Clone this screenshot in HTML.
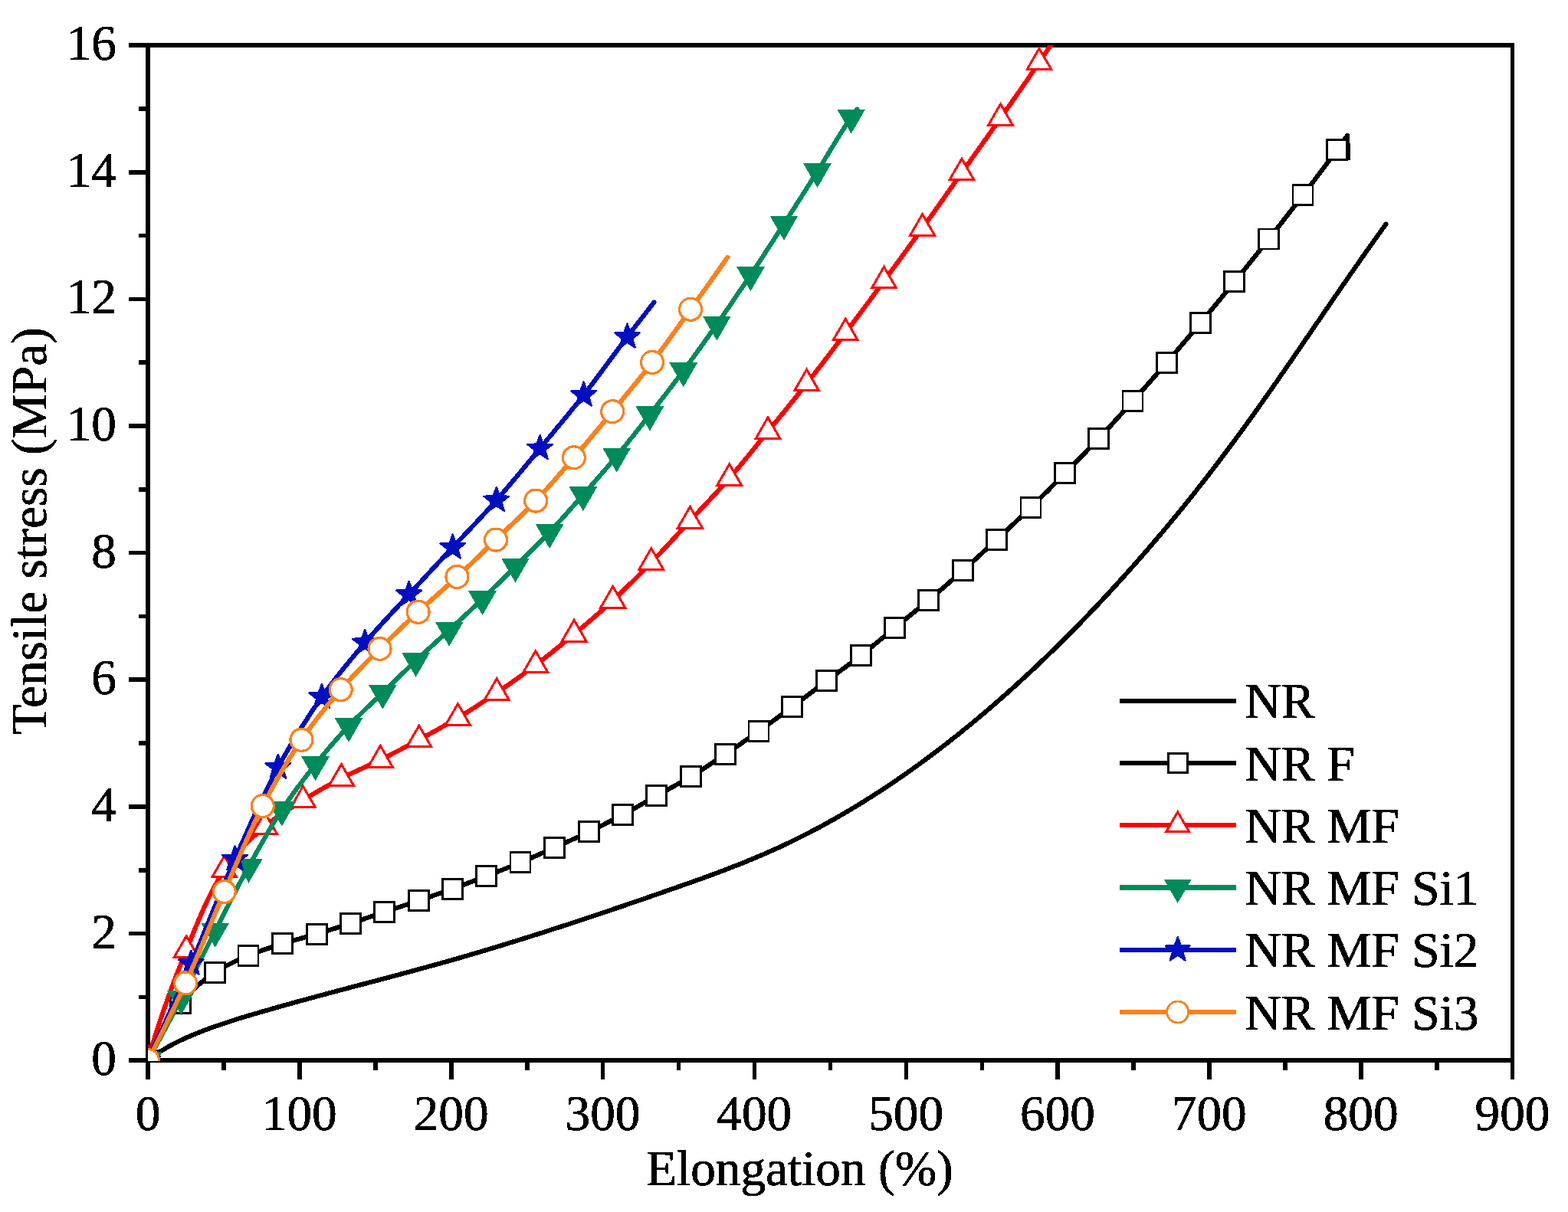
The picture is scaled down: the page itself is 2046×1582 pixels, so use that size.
<!DOCTYPE html>
<html lang="en"><head><meta charset="utf-8"><title>Tensile stress vs elongation</title>
<style>html,body{margin:0;padding:0;background:#fff}svg{display:block}text{font-family:"Liberation Serif", "DejaVu Serif", serif;fill:#000;stroke:#000;stroke-width:0.7px;stroke-linejoin:round;filter:url(#bin)}</style></head><body>
<svg width="2046" height="1582" viewBox="0 0 2046 1582">
<rect width="2046" height="1582" fill="#fff"/>
<defs><filter id="bin" x="-0.05" y="-0.05" width="1.1" height="1.1" color-interpolation-filters="sRGB"><feComponentTransfer><feFuncA type="discrete" tableValues="0 1"/></feComponentTransfer></filter><clipPath id="plot"><rect x="193" y="59" width="1780.5" height="1326"/></clipPath></defs>
<g fill="#000" shape-rendering="crispEdges">
<rect x="190" y="56" width="6" height="1331"/>
<rect x="1971" y="56" width="5" height="1331"/>
<rect x="190" y="56" width="1786" height="6"/>
<rect x="190" y="1381" width="1786" height="6"/>
<rect x="190.4" y="1387" width="5.5" height="22"/>
<rect x="289.3" y="1387" width="5.5" height="10"/>
<rect x="388.2" y="1387" width="5.5" height="22"/>
<rect x="487.1" y="1387" width="5.5" height="10"/>
<rect x="586.1" y="1387" width="5.5" height="22"/>
<rect x="685" y="1387" width="5.5" height="10"/>
<rect x="783.9" y="1387" width="5.5" height="22"/>
<rect x="882.8" y="1387" width="5.5" height="10"/>
<rect x="981.7" y="1387" width="5.5" height="22"/>
<rect x="1080.7" y="1387" width="5.5" height="10"/>
<rect x="1179.6" y="1387" width="5.5" height="22"/>
<rect x="1278.5" y="1387" width="5.5" height="10"/>
<rect x="1377.4" y="1387" width="5.5" height="22"/>
<rect x="1476.3" y="1387" width="5.5" height="10"/>
<rect x="1575.2" y="1387" width="5.5" height="22"/>
<rect x="1674.2" y="1387" width="5.5" height="10"/>
<rect x="1773.1" y="1387" width="5.5" height="22"/>
<rect x="1872" y="1387" width="5.5" height="10"/>
<rect x="1970.9" y="1387" width="5.5" height="22"/>
<rect x="168" y="1381.3" width="22" height="5.6"/>
<rect x="181" y="1298.5" width="9" height="5.6"/>
<rect x="168" y="1215.7" width="22" height="5.6"/>
<rect x="181" y="1132.9" width="9" height="5.6"/>
<rect x="168" y="1050" width="22" height="5.6"/>
<rect x="181" y="967.2" width="9" height="5.6"/>
<rect x="168" y="884.4" width="22" height="5.6"/>
<rect x="181" y="801.6" width="9" height="5.6"/>
<rect x="168" y="718.8" width="22" height="5.6"/>
<rect x="181" y="636" width="9" height="5.6"/>
<rect x="168" y="553.2" width="22" height="5.6"/>
<rect x="181" y="470.4" width="9" height="5.6"/>
<rect x="168" y="387.6" width="22" height="5.6"/>
<rect x="181" y="304.7" width="9" height="5.6"/>
<rect x="168" y="221.9" width="22" height="5.6"/>
<rect x="181" y="139.1" width="9" height="5.6"/>
<rect x="168" y="56.3" width="22" height="5.6"/>
</g>
<g font-size="65.3">
<text x="193" y="1475" text-anchor="middle">0</text>
<text x="390.8" y="1475" text-anchor="middle">100</text>
<text x="588.7" y="1475" text-anchor="middle">200</text>
<text x="786.5" y="1475" text-anchor="middle">300</text>
<text x="984.3" y="1475" text-anchor="middle">400</text>
<text x="1182.2" y="1475" text-anchor="middle">500</text>
<text x="1380" y="1475" text-anchor="middle">600</text>
<text x="1577.8" y="1475" text-anchor="middle">700</text>
<text x="1775.7" y="1475" text-anchor="middle">800</text>
<text x="1973.5" y="1475" text-anchor="middle">900</text>
<text x="152" y="1403.2" text-anchor="end">0</text>
<text x="152" y="1237.6" text-anchor="end">2</text>
<text x="152" y="1072" text-anchor="end">4</text>
<text x="152" y="906.3" text-anchor="end">6</text>
<text x="152" y="740.7" text-anchor="end">8</text>
<text x="152" y="575.1" text-anchor="end">10</text>
<text x="152" y="409.4" text-anchor="end">12</text>
<text x="152" y="243.8" text-anchor="end">14</text>
<text x="152" y="78.2" text-anchor="end">16</text>
</g>
<text x="1043.5" y="1547" font-size="65.3" text-anchor="middle">Elongation (%)</text>
<text transform="translate(60.3 693.3) rotate(-90)" font-size="65.3" text-anchor="middle">Tensile stress (MPa)</text>
<g clip-path="url(#plot)" shape-rendering="crispEdges">
<path d="M193 1384.3 L196 1381.9 L202 1377.5 L208 1373.3 L214 1369.6 L220 1366 L226 1362.8 L232 1359.7 L238 1356.9 L244 1354.1 L250 1351.6 L256 1349.1 L262 1346.7 L268 1344.4 L274 1342.1 L280 1340 L286 1337.9 L292 1335.9 L298 1333.9 L304 1332 L310 1330.1 L316 1328.2 L322 1326.4 L328 1324.6 L334 1322.9 L340 1321.1 L346 1319.4 L352 1317.7 L358 1315.9 L364 1314.2 L370 1312.5 L376 1310.9 L382 1309.2 L388 1307.5 L394 1305.9 L400 1304.3 L406 1302.6 L412 1301 L418 1299.4 L424 1297.8 L430 1296.2 L436 1294.6 L442 1293 L448 1291.4 L454 1289.8 L460 1288.2 L466 1286.6 L472 1285 L478 1283.5 L484 1281.9 L490 1280.3 L496 1278.7 L502 1277.1 L508 1275.5 L514 1273.9 L520 1272.3 L526 1270.7 L532 1269.1 L538 1267.5 L544 1265.8 L550 1264.2 L556 1262.6 L562 1260.9 L568 1259.2 L574 1257.6 L580 1255.9 L586 1254.2 L592 1252.5 L598 1250.8 L604 1249 L610 1247.3 L616 1245.5 L622 1243.8 L628 1242 L634 1240.2 L640 1238.4 L646 1236.6 L652 1234.8 L658 1232.9 L664 1231.1 L670 1229.2 L676 1227.4 L682 1225.5 L688 1223.6 L694 1221.7 L700 1219.8 L706 1217.9 L712 1216 L718 1214.1 L724 1212.1 L730 1210.2 L736 1208.2 L742 1206.3 L748 1204.3 L754 1202.3 L760 1200.3 L766 1198.3 L772 1196.3 L778 1194.3 L784 1192.3 L790 1190.3 L796 1188.3 L802 1186.2 L808 1184.2 L814 1182.2 L820 1180.1 L826 1178.1 L832 1176 L838 1173.9 L844 1171.9 L850 1169.8 L856 1167.7 L862 1165.6 L868 1163.5 L874 1161.4 L880 1159.4 L886 1157.2 L892 1155.1 L898 1153 L904 1150.9 L910 1148.7 L916 1146.6 L922 1144.4 L928 1142.2 L934 1140 L940 1137.7 L946 1135.5 L952 1133.2 L958 1130.8 L964 1128.5 L970 1126.1 L976 1123.6 L982 1121.1 L988 1118.6 L994 1116.1 L1000 1113.5 L1006 1110.8 L1012 1108.1 L1018 1105.4 L1024 1102.6 L1030 1099.7 L1036 1096.8 L1042 1093.8 L1048 1090.8 L1054 1087.8 L1060 1084.6 L1066 1081.5 L1072 1078.3 L1078 1075 L1084 1071.6 L1090 1068.3 L1096 1064.8 L1102 1061.3 L1108 1057.8 L1114 1054.2 L1120 1050.6 L1126 1046.9 L1132 1043.1 L1138 1039.3 L1144 1035.5 L1150 1031.6 L1156 1027.6 L1162 1023.6 L1168 1019.6 L1174 1015.4 L1180 1011.3 L1186 1007.1 L1192 1002.8 L1198 998.5 L1204 994.1 L1210 989.7 L1216 985.2 L1222 980.7 L1228 976.1 L1234 971.5 L1240 966.8 L1246 962 L1252 957.3 L1258 952.4 L1264 947.5 L1270 942.6 L1276 937.6 L1282 932.5 L1288 927.5 L1294 922.3 L1300 917.1 L1306 911.9 L1312 906.6 L1318 901.2 L1324 895.8 L1330 890.3 L1336 884.8 L1342 879.3 L1348 873.7 L1354 868 L1360 862.3 L1366 856.5 L1372 850.7 L1378 844.9 L1384 838.9 L1390 833 L1396 827 L1402 820.9 L1408 814.8 L1414 808.6 L1420 802.4 L1426 796.1 L1432 789.8 L1438 783.4 L1444 777 L1450 770.5 L1456 763.9 L1462 757.3 L1468 750.7 L1474 744 L1480 737.2 L1486 730.4 L1492 723.5 L1498 716.6 L1504 709.6 L1510 702.6 L1516 695.5 L1522 688.3 L1528 681.1 L1534 673.8 L1540 666.5 L1546 659.1 L1552 651.6 L1558 644.1 L1564 636.5 L1570 628.8 L1576 621.1 L1582 613.4 L1588 605.5 L1594 597.6 L1600 589.6 L1606 581.6 L1612 573.5 L1618 565.3 L1624 557.1 L1630 548.8 L1636 540.4 L1642 532 L1648 523.5 L1654 515 L1660 506.5 L1666 497.9 L1672 489.2 L1678 480.5 L1684 471.9 L1690 463.1 L1696 454.4 L1702 445.6 L1708 436.9 L1714 428.1 L1720 419.3 L1726 410.6 L1732 401.8 L1738 393 L1744 384.3 L1750 375.6 L1756 366.9 L1762 358.2 L1768 349.6 L1774 341 L1780 332.4 L1786 323.9 L1792 315.5 L1798 307.1 L1804 298.7 L1808.5 292.5" fill="none" stroke="#000000" stroke-width="6.1" stroke-linejoin="round" stroke-linecap="round"/>
<path d="M193 1384 L196 1376.2 L199.2 1368.5 L202.7 1361.1 L206.4 1353.8 L210.3 1346.7 L214.4 1339.7 L218.7 1333 L223.1 1326.4 L227.7 1320 L232.4 1313.7 L235.6 1309.7 L237.3 1307.7 L242.5 1301.7 L248 1295.9 L253.9 1290.2 L260 1284.7 L266.3 1279.5 L272.8 1274.6 L279.3 1270 L280.7 1269.1 L285.9 1265.8 L292.9 1261.9 L300 1258.2 L307.4 1254.6 L314.8 1251.3 L322.2 1248.2 L324 1247.4 L329.6 1245.2 L337.1 1242.3 L344.7 1239.6 L352.3 1237.1 L360 1234.6 L367.6 1232.2 L368.8 1231.8 L375.3 1229.8 L383 1227.6 L390.8 1225.4 L398.5 1223.3 L406.2 1221.1 L413.1 1219.1 L414 1218.8 L421.6 1216.5 L429.3 1214.2 L437 1211.8 L444.7 1209.4 L452.3 1207 L457.5 1205.3 L460 1204.5 L467.6 1202 L475.2 1199.4 L482.8 1196.8 L490.4 1194.2 L498 1191.6 L501.8 1190.3 L505.6 1189 L513.2 1186.5 L520.9 1184 L528.5 1181.5 L536.1 1178.9 L543.7 1176.4 L546.3 1175.5 L551.3 1173.8 L558.9 1171.2 L566.5 1168.6 L574.1 1166 L581.7 1163.3 L589.3 1160.6 L590.4 1160.2 L596.8 1157.9 L604.3 1155.1 L611.9 1152.2 L619.4 1149.4 L626.9 1146.5 L634.4 1143.6 L634.7 1143.5 L641.9 1140.7 L649.3 1137.8 L656.8 1134.9 L664.3 1131.9 L671.7 1128.9 L679 1125.9 L679.2 1125.8 L686.6 1122.7 L693.9 1119.5 L701.3 1116.3 L708.6 1113 L715.9 1109.7 L723.3 1106.4 L723.3 1106.4 L730.6 1103.1 L737.9 1099.9 L745.3 1096.6 L752.6 1093.3 L759.9 1089.9 L767.2 1086.5 L768.4 1085.9 L774.4 1083 L781.6 1079.4 L788.8 1075.8 L795.9 1072.1 L803 1068.4 L810.1 1064.7 L812.2 1063.6 L817.2 1060.9 L824.3 1057.1 L831.3 1053.2 L838.3 1049.2 L845.3 1045.3 L852.3 1041.3 L856.8 1038.8 L859.3 1037.4 L866.3 1033.5 L873.4 1029.6 L880.4 1025.7 L887.4 1021.8 L894.4 1017.8 L901.1 1013.8 L901.3 1013.7 L908.1 1009.5 L914.9 1005.2 L921.7 1000.9 L928.4 996.5 L935.1 992 L941.8 987.6 L946.2 984.6 L948.4 983.1 L955.1 978.6 L961.8 974.1 L968.4 969.6 L975 965 L981.6 960.4 L988.2 955.8 L990 954.5 L994.7 951.2 L1001.2 946.5 L1007.7 941.7 L1014.2 937 L1020.7 932.2 L1027.1 927.4 L1033.6 922.7 L1033.8 922.5 L1040 917.9 L1046.5 913.1 L1052.9 908.2 L1059.3 903.4 L1065.7 898.6 L1072.1 893.8 L1078.6 888.9 L1078.9 888.7 L1085 884.1 L1091.5 879.4 L1097.9 874.6 L1104.4 869.8 L1110.8 865 L1117.3 860.2 L1123.2 855.6 L1123.6 855.3 L1129.9 850.3 L1136.2 845.3 L1142.4 840.2 L1148.6 835.1 L1154.8 830 L1161 824.9 L1167.3 819.8 L1167.3 819.8 L1173.5 814.8 L1179.7 809.7 L1185.9 804.6 L1192.2 799.5 L1198.4 794.4 L1204.5 789.3 L1210.7 784.1 L1211.6 783.4 L1216.9 779 L1223 773.8 L1229.1 768.6 L1235.2 763.4 L1241.3 758.1 L1247.4 752.9 L1253.4 747.6 L1256.4 744.9 L1259.4 742.2 L1265.4 736.8 L1271.3 731.4 L1277.2 726 L1283.1 720.5 L1289 715 L1294.9 709.6 L1300.5 704.3 L1300.7 704.1 L1306.6 698.6 L1312.5 693.2 L1318.4 687.7 L1324.3 682.2 L1330.1 676.7 L1336 671.2 L1341.8 665.6 L1345 662.5 L1347.5 660 L1353.2 654.4 L1358.9 648.7 L1364.6 643.1 L1370.3 637.4 L1375.9 631.6 L1381.5 625.9 L1387.2 620.2 L1389.4 617.9 L1392.8 614.4 L1398.4 608.7 L1404.1 603 L1409.7 597.2 L1415.3 591.5 L1420.9 585.7 L1426.5 579.9 L1432 574.1 L1433.9 572.1 L1437.5 568.3 L1443 562.4 L1448.4 556.5 L1453.8 550.6 L1459.3 544.6 L1464.6 538.7 L1470 532.7 L1475.4 526.7 L1478 523.8 L1480.7 520.7 L1486.1 514.7 L1491.4 508.7 L1496.7 502.7 L1502 496.7 L1507.3 490.6 L1512.6 484.5 L1517.8 478.5 L1522.4 473.2 L1523.1 472.4 L1528.3 466.3 L1533.6 460.2 L1538.8 454.1 L1544 448 L1549.2 441.9 L1554.4 435.8 L1559.6 429.6 L1564.8 423.5 L1566.7 421.2 L1569.9 417.3 L1575.1 411.2 L1580.2 405 L1585.3 398.8 L1590.5 392.6 L1595.6 386.4 L1600.7 380.2 L1605.7 374 L1610.8 367.8 L1610.8 367.8 L1615.9 361.5 L1621 355.3 L1626 349.1 L1631 342.8 L1636.1 336.5 L1641.1 330.3 L1646.1 324 L1651.1 317.7 L1655.6 312 L1656.1 311.4 L1661.1 305.1 L1666 298.8 L1671 292.4 L1675.9 286.1 L1680.8 279.8 L1685.8 273.4 L1690.7 267.1 L1695.6 260.7 L1700 254.9 L1700.4 254.3 L1705.3 247.9 L1710.2 241.6 L1715.1 235.2 L1719.9 228.8 L1724.8 222.3 L1729.6 215.9 L1734.4 209.5 L1739.2 203 L1743.9 196.6 L1744.5 195.8 L1748.7 190.1 L1753.3 183.5 L1758 177 L1759.3 206.3" fill="none" stroke="#000000" stroke-width="6.1" stroke-linejoin="round" stroke-linecap="round"/>
<rect x="180" y="1371" width="26" height="26" fill="#fff" stroke="#000000" stroke-width="2.9"/>
<rect x="222.6" y="1296.7" width="26" height="26" fill="#fff" stroke="#000000" stroke-width="2.9"/>
<rect x="267.7" y="1256.1" width="26" height="26" fill="#fff" stroke="#000000" stroke-width="2.9"/>
<rect x="311" y="1234.4" width="26" height="26" fill="#fff" stroke="#000000" stroke-width="2.9"/>
<rect x="355.8" y="1218.8" width="26" height="26" fill="#fff" stroke="#000000" stroke-width="2.9"/>
<rect x="400.1" y="1206.1" width="26" height="26" fill="#fff" stroke="#000000" stroke-width="2.9"/>
<rect x="444.5" y="1192.3" width="26" height="26" fill="#fff" stroke="#000000" stroke-width="2.9"/>
<rect x="488.8" y="1177.3" width="26" height="26" fill="#fff" stroke="#000000" stroke-width="2.9"/>
<rect x="533.3" y="1162.5" width="26" height="26" fill="#fff" stroke="#000000" stroke-width="2.9"/>
<rect x="577.4" y="1147.2" width="26" height="26" fill="#fff" stroke="#000000" stroke-width="2.9"/>
<rect x="621.7" y="1130.5" width="26" height="26" fill="#fff" stroke="#000000" stroke-width="2.9"/>
<rect x="666" y="1112.9" width="26" height="26" fill="#fff" stroke="#000000" stroke-width="2.9"/>
<rect x="710.3" y="1093.4" width="26" height="26" fill="#fff" stroke="#000000" stroke-width="2.9"/>
<rect x="755.4" y="1072.9" width="26" height="26" fill="#fff" stroke="#000000" stroke-width="2.9"/>
<rect x="799.2" y="1050.6" width="26" height="26" fill="#fff" stroke="#000000" stroke-width="2.9"/>
<rect x="843.8" y="1025.8" width="26" height="26" fill="#fff" stroke="#000000" stroke-width="2.9"/>
<rect x="888.1" y="1000.8" width="26" height="26" fill="#fff" stroke="#000000" stroke-width="2.9"/>
<rect x="933.2" y="971.6" width="26" height="26" fill="#fff" stroke="#000000" stroke-width="2.9"/>
<rect x="977" y="941.5" width="26" height="26" fill="#fff" stroke="#000000" stroke-width="2.9"/>
<rect x="1020.8" y="909.5" width="26" height="26" fill="#fff" stroke="#000000" stroke-width="2.9"/>
<rect x="1065.9" y="875.7" width="26" height="26" fill="#fff" stroke="#000000" stroke-width="2.9"/>
<rect x="1110.2" y="842.6" width="26" height="26" fill="#fff" stroke="#000000" stroke-width="2.9"/>
<rect x="1154.3" y="806.8" width="26" height="26" fill="#fff" stroke="#000000" stroke-width="2.9"/>
<rect x="1198.6" y="770.4" width="26" height="26" fill="#fff" stroke="#000000" stroke-width="2.9"/>
<rect x="1243.4" y="731.9" width="26" height="26" fill="#fff" stroke="#000000" stroke-width="2.9"/>
<rect x="1287.5" y="691.3" width="26" height="26" fill="#fff" stroke="#000000" stroke-width="2.9"/>
<rect x="1332" y="649.5" width="26" height="26" fill="#fff" stroke="#000000" stroke-width="2.9"/>
<rect x="1376.4" y="604.9" width="26" height="26" fill="#fff" stroke="#000000" stroke-width="2.9"/>
<rect x="1420.9" y="559.1" width="26" height="26" fill="#fff" stroke="#000000" stroke-width="2.9"/>
<rect x="1465" y="510.8" width="26" height="26" fill="#fff" stroke="#000000" stroke-width="2.9"/>
<rect x="1509.4" y="460.2" width="26" height="26" fill="#fff" stroke="#000000" stroke-width="2.9"/>
<rect x="1553.7" y="408.2" width="26" height="26" fill="#fff" stroke="#000000" stroke-width="2.9"/>
<rect x="1597.8" y="354.8" width="26" height="26" fill="#fff" stroke="#000000" stroke-width="2.9"/>
<rect x="1642.6" y="299" width="26" height="26" fill="#fff" stroke="#000000" stroke-width="2.9"/>
<rect x="1687" y="241.9" width="26" height="26" fill="#fff" stroke="#000000" stroke-width="2.9"/>
<rect x="1731.5" y="182.8" width="26" height="26" fill="#fff" stroke="#000000" stroke-width="2.9"/>
<path d="M193 1384 L195.2 1376.2 L197.5 1368.4 L199.9 1360.7 L202.2 1353 L204.7 1345.2 L207.2 1337.6 L209.7 1329.9 L212.3 1322.2 L215 1314.6 L217.6 1307 L220.4 1299.4 L223.1 1291.8 L225.9 1284.3 L228.8 1276.7 L231.6 1269.2 L234.6 1261.7 L237.5 1254.2 L240.5 1246.8 L243.1 1240.3 L243.5 1239.3 L246.5 1231.8 L249.6 1224.3 L252.6 1216.8 L255.7 1209.2 L258.9 1201.6 L262.1 1194.1 L265.4 1186.6 L268.8 1179.2 L272.3 1171.9 L275.9 1164.6 L279.7 1157.5 L283.6 1150.6 L287.6 1143.8 L291.8 1137.1 L292.7 1135.7 L296.2 1130.7 L300.9 1124.3 L306 1118 L311.3 1111.8 L316.8 1105.8 L322.5 1099.9 L328.4 1094.1 L334.3 1088.6 L340.4 1083.2 L345.3 1078.9 L346.4 1078 L352.6 1073 L359.1 1068.2 L365.7 1063.6 L372.4 1059.1 L379.3 1054.7 L386.2 1050.4 L393 1046.1 L395.4 1044.6 L399.9 1041.8 L406.7 1037.6 L413.7 1033.5 L420.7 1029.4 L427.7 1025.5 L434.8 1021.6 L441.9 1017.8 L445.4 1015.9 L449 1014.1 L456.2 1010.5 L463.5 1007.1 L470.9 1003.7 L478.2 1000.3 L485.6 997 L492.8 993.5 L496.3 991.8 L500.1 989.9 L507.3 986.3 L514.4 982.6 L521.6 978.9 L528.8 975.2 L535.9 971.4 L543 967.6 L546.8 965.5 L550.1 963.7 L557.2 959.9 L564.2 956 L571.3 952.1 L578.3 948.1 L585.3 944.1 L592.3 940 L597.4 937 L599.2 935.9 L606.1 931.7 L612.9 927.4 L619.7 923.1 L626.5 918.7 L633.2 914.2 L639.9 909.8 L646.6 905.3 L648.2 904.2 L653.3 900.7 L659.9 896.2 L666.6 891.5 L673.2 886.9 L679.7 882.2 L686.2 877.4 L692.7 872.7 L698.8 868.1 L699.2 867.8 L705.6 862.9 L712 858 L718.3 853 L724.6 847.9 L730.9 842.9 L737.1 837.7 L743.3 832.6 L749.1 827.8 L749.5 827.5 L755.7 822.3 L761.9 817.1 L768 811.9 L774.1 806.6 L780.2 801.3 L786.3 796 L792.3 790.6 L798.2 785.1 L799.7 783.8 L804.1 779.7 L810 774.1 L815.8 768.5 L821.5 762.8 L827.3 757.2 L833 751.4 L838.6 745.7 L844.3 739.9 L849.8 734.2 L849.9 734.1 L855.5 728.3 L861 722.5 L866.5 716.6 L872 710.7 L877.5 704.7 L882.9 698.8 L888.4 692.8 L893.8 686.9 L899.3 681 L900.4 679.8 L904.8 675.1 L910.3 669.2 L915.8 663.3 L921.4 657.4 L926.9 651.5 L932.4 645.6 L937.8 639.7 L943.3 633.7 L948.6 627.7 L951.7 624.2 L953.9 621.6 L959.2 615.5 L964.4 609.4 L969.5 603.2 L974.7 596.9 L979.8 590.7 L984.9 584.4 L989.9 578.1 L995 571.9 L1000.1 565.6 L1002 563.3 L1005.2 559.4 L1010.3 553.1 L1015.4 546.9 L1020.5 540.6 L1025.6 534.4 L1030.7 528.1 L1035.8 521.8 L1040.8 515.5 L1045.8 509.2 L1050.8 502.9 L1052.6 500.7 L1055.8 496.6 L1060.8 490.2 L1065.7 483.9 L1070.7 477.5 L1075.6 471.1 L1080.5 464.7 L1085.3 458.2 L1090.2 451.8 L1095.1 445.4 L1099.9 438.9 L1103.2 434.6 L1104.8 432.5 L1109.6 426 L1114.5 419.6 L1119.3 413.1 L1124.1 406.6 L1128.9 400.1 L1133.7 393.7 L1138.5 387.2 L1143.2 380.7 L1148 374.2 L1152.8 367.7 L1153.5 366.7 L1157.6 361.2 L1162.3 354.7 L1167.1 348.2 L1171.9 341.6 L1176.6 335.1 L1181.4 328.6 L1186.1 322.1 L1190.8 315.6 L1195.6 309 L1200.3 302.5 L1203.6 297.9 L1205 295.9 L1209.7 289.4 L1214.4 282.8 L1219.1 276.3 L1223.7 269.7 L1228.4 263.1 L1233 256.5 L1237.7 249.9 L1242.4 243.3 L1247 236.7 L1251.7 230.2 L1254.9 225.6 L1256.3 223.6 L1261 217 L1265.7 210.4 L1270.3 203.9 L1275 197.3 L1279.7 190.7 L1284.4 184.1 L1289 177.5 L1293.7 171 L1298.3 164.4 L1303 157.8 L1305.5 154.2 L1307.6 151.2 L1312.3 144.6 L1316.9 138 L1321.5 131.4 L1326.2 124.8 L1330.8 118.2 L1335.4 111.5 L1340 104.9 L1344.6 98.3 L1349.1 91.6 L1353.7 85 L1356 81.6 L1358.2 78.3 L1362.7 71.6 L1367.2 64.9 L1371.7 58.2 L1376.1 51.5 L1380.6 44.7 L1385 38" fill="none" stroke="#FF0000" stroke-width="6.1" stroke-linejoin="round" stroke-linecap="round"/>
<polygon points="193,1365.6 208.9,1393.2 177.1,1393.2" fill="#fff" stroke="#FF0000" stroke-width="3.0"/>
<polygon points="243.1,1221.9 259,1249.5 227.2,1249.5" fill="#fff" stroke="#FF0000" stroke-width="3.0"/>
<polygon points="292.7,1117.3 308.6,1144.9 276.8,1144.9" fill="#fff" stroke="#FF0000" stroke-width="3.0"/>
<polygon points="345.3,1060.5 361.2,1088.1 329.4,1088.1" fill="#fff" stroke="#FF0000" stroke-width="3.0"/>
<polygon points="395.4,1026.2 411.3,1053.8 379.5,1053.8" fill="#fff" stroke="#FF0000" stroke-width="3.0"/>
<polygon points="445.4,997.5 461.3,1025.1 429.5,1025.1" fill="#fff" stroke="#FF0000" stroke-width="3.0"/>
<polygon points="496.3,973.4 512.2,1001 480.4,1001" fill="#fff" stroke="#FF0000" stroke-width="3.0"/>
<polygon points="546.8,947.1 562.7,974.7 530.9,974.7" fill="#fff" stroke="#FF0000" stroke-width="3.0"/>
<polygon points="597.4,918.6 613.3,946.2 581.5,946.2" fill="#fff" stroke="#FF0000" stroke-width="3.0"/>
<polygon points="648.2,885.8 664.1,913.4 632.3,913.4" fill="#fff" stroke="#FF0000" stroke-width="3.0"/>
<polygon points="698.8,849.7 714.7,877.3 682.9,877.3" fill="#fff" stroke="#FF0000" stroke-width="3.0"/>
<polygon points="749.1,809.4 765,837 733.2,837" fill="#fff" stroke="#FF0000" stroke-width="3.0"/>
<polygon points="799.7,765.4 815.6,793 783.8,793" fill="#fff" stroke="#FF0000" stroke-width="3.0"/>
<polygon points="849.8,715.8 865.7,743.4 833.9,743.4" fill="#fff" stroke="#FF0000" stroke-width="3.0"/>
<polygon points="900.4,661.4 916.3,689 884.5,689" fill="#fff" stroke="#FF0000" stroke-width="3.0"/>
<polygon points="951.7,605.8 967.6,633.4 935.8,633.4" fill="#fff" stroke="#FF0000" stroke-width="3.0"/>
<polygon points="1002,544.9 1017.9,572.5 986.1,572.5" fill="#fff" stroke="#FF0000" stroke-width="3.0"/>
<polygon points="1052.6,482.3 1068.5,509.9 1036.7,509.9" fill="#fff" stroke="#FF0000" stroke-width="3.0"/>
<polygon points="1103.2,416.2 1119.1,443.8 1087.3,443.8" fill="#fff" stroke="#FF0000" stroke-width="3.0"/>
<polygon points="1153.5,348.3 1169.4,375.9 1137.6,375.9" fill="#fff" stroke="#FF0000" stroke-width="3.0"/>
<polygon points="1203.6,279.5 1219.5,307.1 1187.7,307.1" fill="#fff" stroke="#FF0000" stroke-width="3.0"/>
<polygon points="1254.9,207.2 1270.8,234.8 1239,234.8" fill="#fff" stroke="#FF0000" stroke-width="3.0"/>
<polygon points="1305.5,135.8 1321.4,163.4 1289.6,163.4" fill="#fff" stroke="#FF0000" stroke-width="3.0"/>
<polygon points="1356,63.2 1371.9,90.8 1340.1,90.8" fill="#fff" stroke="#FF0000" stroke-width="3.0"/>
<path d="M193 1384 L196.9 1376.9 L200.8 1369.9 L204.7 1362.8 L208.6 1355.7 L212.4 1348.6 L216.3 1341.5 L220.1 1334.4 L223.9 1327.2 L227.7 1320.1 L231.4 1312.9 L235.2 1305.8 L236.4 1303.4 L238.9 1298.6 L242.6 1291.4 L246.2 1284.2 L249.8 1277 L253.5 1269.8 L257 1262.6 L260.6 1255.3 L264.2 1248.1 L267.8 1240.9 L271.4 1233.6 L275.1 1226.4 L278.7 1219.2 L280.7 1215.3 L282.4 1212 L286.1 1204.8 L289.7 1197.6 L293.4 1190.4 L297.1 1183.2 L300.8 1176 L304.5 1168.9 L308.2 1161.7 L311.9 1154.5 L315.7 1147.4 L319.5 1140.3 L323.4 1133.2 L324.5 1131.2 L327.3 1126.1 L331.2 1119.1 L335.1 1112 L339.1 1104.9 L343.1 1097.9 L347.1 1090.9 L351.2 1083.9 L355.3 1076.9 L359.5 1070.1 L363.8 1063.2 L367.8 1057.1 L368.2 1056.5 L372.7 1049.8 L377.3 1043.2 L382 1036.6 L386.7 1030 L391.6 1023.5 L396.5 1017.1 L401.4 1010.7 L406.4 1004.3 L411.4 998 L411.6 997.8 L416.5 991.7 L421.6 985.5 L426.8 979.3 L432 973.1 L437.3 967 L442.7 960.9 L448.1 955 L453.6 949 L455 947.5 L459.1 943.2 L464.8 937.5 L470.6 931.8 L476.4 926.2 L482.2 920.6 L488.1 915.1 L494 909.5 L499.3 904.4 L499.8 903.9 L505.6 898.3 L511.4 892.6 L517.1 887 L522.9 881.3 L528.7 875.7 L534.5 870.1 L540.4 864.5 L542.6 862.4 L546.2 859 L552.2 853.5 L558.1 848 L564.1 842.6 L570 837.1 L576 831.7 L582 826.2 L586.2 822.3 L587.9 820.7 L593.8 815.3 L599.7 809.8 L605.7 804.3 L611.6 798.8 L617.5 793.2 L623.3 787.7 L629.2 782.1 L629.5 781.8 L635 776.5 L640.7 770.8 L646.5 765.2 L652.2 759.5 L657.9 753.8 L663.6 748.1 L669.3 742.3 L672.5 739.2 L675.1 736.6 L680.8 731 L686.6 725.3 L692.4 719.6 L698.1 714 L703.8 708.3 L709.5 702.5 L715.1 696.7 L717.1 694.6 L720.6 690.8 L726.1 684.9 L731.6 678.9 L737 672.9 L742.3 666.9 L747.7 660.8 L753 654.8 L758.3 648.7 L760.9 645.8 L763.7 642.6 L769 636.6 L774.4 630.5 L779.7 624.5 L785 618.4 L790.3 612.3 L795.6 606.1 L800.8 600 L804.7 595.3 L806 593.8 L811.1 587.5 L816.2 581.3 L821.2 575 L826.3 568.7 L831.3 562.3 L836.3 556 L841.3 549.6 L846.2 543.3 L848 541 L851.2 536.9 L856.2 530.5 L861.1 524.1 L866.1 517.8 L871 511.4 L875.9 504.9 L880.8 498.5 L885.7 492.1 L890.5 485.6 L891.8 483.9 L895.3 479.1 L900.1 472.6 L904.9 466.1 L909.6 459.6 L914.3 453 L919.1 446.4 L923.7 439.8 L928.4 433.3 L933.1 426.6 L935.4 423.3 L937.7 420 L942.3 413.4 L946.9 406.8 L951.5 400.1 L956 393.4 L960.6 386.8 L965.1 380.1 L969.6 373.4 L974.1 366.7 L978.6 360 L979.5 358.7 L983.1 353.3 L987.6 346.5 L992.1 339.8 L996.5 333.1 L1000.9 326.3 L1005.3 319.5 L1009.7 312.8 L1014.1 306 L1018.5 299.2 L1022.9 292.4 L1023 292.3 L1027.3 285.6 L1031.6 278.8 L1036 272 L1040.3 265.2 L1044.7 258.4 L1049 251.6 L1053.3 244.7 L1057.6 237.9 L1061.9 231.1 L1066.2 224.2 L1066.5 223.8 L1070.5 217.4 L1074.7 210.5 L1078.9 203.6 L1083.1 196.7 L1087.3 189.8 L1091.6 182.9 L1095.8 176 L1100.1 169.2 L1104.5 162.4 L1109 155.7 L1110.7 153.2 L1113.6 149.1 L1118.4 142.6" fill="none" stroke="#008B5A" stroke-width="6.1" stroke-linejoin="round" stroke-linecap="round"/>
<polygon points="193,1402.4 208.9,1374.8 177.1,1374.8" fill="#008B5A" stroke="#008B5A" stroke-width="3.0"/>
<polygon points="236.4,1321.8 252.3,1294.2 220.5,1294.2" fill="#008B5A" stroke="#008B5A" stroke-width="3.0"/>
<polygon points="280.7,1233.7 296.6,1206.1 264.8,1206.1" fill="#008B5A" stroke="#008B5A" stroke-width="3.0"/>
<polygon points="324.5,1149.6 340.4,1122 308.6,1122" fill="#008B5A" stroke="#008B5A" stroke-width="3.0"/>
<polygon points="367.8,1075.5 383.7,1047.9 351.9,1047.9" fill="#008B5A" stroke="#008B5A" stroke-width="3.0"/>
<polygon points="411.6,1016.2 427.5,988.6 395.7,988.6" fill="#008B5A" stroke="#008B5A" stroke-width="3.0"/>
<polygon points="455,965.9 470.9,938.3 439.1,938.3" fill="#008B5A" stroke="#008B5A" stroke-width="3.0"/>
<polygon points="499.3,922.8 515.2,895.2 483.4,895.2" fill="#008B5A" stroke="#008B5A" stroke-width="3.0"/>
<polygon points="542.6,880.8 558.5,853.2 526.7,853.2" fill="#008B5A" stroke="#008B5A" stroke-width="3.0"/>
<polygon points="586.2,840.7 602.1,813.1 570.3,813.1" fill="#008B5A" stroke="#008B5A" stroke-width="3.0"/>
<polygon points="629.5,800.2 645.4,772.6 613.6,772.6" fill="#008B5A" stroke="#008B5A" stroke-width="3.0"/>
<polygon points="672.5,757.6 688.4,730 656.6,730" fill="#008B5A" stroke="#008B5A" stroke-width="3.0"/>
<polygon points="717.1,713 733,685.4 701.2,685.4" fill="#008B5A" stroke="#008B5A" stroke-width="3.0"/>
<polygon points="760.9,664.2 776.8,636.6 745,636.6" fill="#008B5A" stroke="#008B5A" stroke-width="3.0"/>
<polygon points="804.7,613.7 820.6,586.1 788.8,586.1" fill="#008B5A" stroke="#008B5A" stroke-width="3.0"/>
<polygon points="848,559.4 863.9,531.8 832.1,531.8" fill="#008B5A" stroke="#008B5A" stroke-width="3.0"/>
<polygon points="891.8,502.3 907.7,474.7 875.9,474.7" fill="#008B5A" stroke="#008B5A" stroke-width="3.0"/>
<polygon points="935.4,441.7 951.3,414.1 919.5,414.1" fill="#008B5A" stroke="#008B5A" stroke-width="3.0"/>
<polygon points="979.5,377.1 995.4,349.5 963.6,349.5" fill="#008B5A" stroke="#008B5A" stroke-width="3.0"/>
<polygon points="1023,310.7 1038.9,283.1 1007.1,283.1" fill="#008B5A" stroke="#008B5A" stroke-width="3.0"/>
<polygon points="1066.5,242.2 1082.4,214.6 1050.6,214.6" fill="#008B5A" stroke="#008B5A" stroke-width="3.0"/>
<polygon points="1110.7,171.6 1126.6,144 1094.8,144" fill="#008B5A" stroke="#008B5A" stroke-width="3.0"/>
<path d="M193 1384 L196.4 1376.7 L199.7 1369.4 L203.1 1362 L206.4 1354.7 L209.8 1347.4 L213.1 1340 L216.4 1332.7 L219.7 1325.3 L223 1318 L226.3 1310.6 L229.5 1303.2 L232.8 1295.9 L236 1288.5 L239.3 1281.1 L242.5 1273.7 L245.7 1266.4 L248.9 1259 L249.4 1257.9 L252.1 1251.6 L255.3 1244.2 L258.4 1236.7 L261.5 1229.3 L264.6 1221.8 L267.6 1214.4 L270.7 1206.9 L273.8 1199.5 L276.8 1192 L279.8 1184.5 L282.9 1177.1 L286 1169.6 L289.1 1162.2 L292.2 1154.8 L295.3 1147.3 L298.4 1139.9 L301.6 1132.5 L304.8 1125.1 L306.5 1121.4 L308.1 1117.8 L311.4 1110.4 L314.6 1103 L317.9 1095.7 L321.2 1088.3 L324.5 1080.9 L327.8 1073.5 L331.1 1066.2 L334.5 1058.9 L337.9 1051.5 L341.4 1044.3 L344.8 1037 L348.4 1029.8 L352 1022.6 L355.6 1015.4 L359.3 1008.3 L362.8 1001.8 L363.1 1001.2 L367 994.2 L370.9 987.1 L374.9 980.1 L379 973.2 L383.1 966.2 L387.3 959.3 L391.6 952.5 L395.9 945.6 L400.3 938.9 L404.7 932.1 L409.2 925.4 L413.7 918.8 L418.3 912.2 L419.9 909.9 L423 905.6 L427.7 899.1 L432.5 892.7 L437.4 886.3 L442.4 879.9 L447.4 873.6 L452.5 867.4 L457.7 861.1 L462.8 854.9 L468 848.7 L473.2 842.6 L476.2 839.1 L478.4 836.5 L483.7 830.4 L489.1 824.4 L494.4 818.4 L499.9 812.4 L505.3 806.5 L510.8 800.6 L516.3 794.7 L521.8 788.8 L527.3 782.8 L532.7 776.9 L533.6 776 L538.2 771 L543.7 765.1 L549.2 759.2 L554.6 753.3 L560.1 747.4 L565.6 741.5 L571.1 735.6 L576.6 729.7 L582.1 723.8 L587.6 717.9 L590.7 714.6 L593.1 712 L598.6 706.1 L604.1 700.3 L609.6 694.4 L615.2 688.5 L620.7 682.7 L626.2 676.8 L631.7 670.9 L637.1 664.9 L642.5 658.9 L647.7 653.1 L647.9 652.9 L653.2 646.9 L658.4 640.8 L663.6 634.6 L668.8 628.5 L674 622.3 L679.2 616.1 L684.3 609.9 L689.4 603.7 L694.6 597.5 L699.7 591.2 L704.6 585.3 L704.8 585 L710 578.8 L715.1 572.6 L720.3 566.4 L725.4 560.2 L730.6 554 L735.7 547.8 L740.8 541.6 L745.9 535.3 L751 529.1 L756 522.8 L761 516.5 L761.6 515.7 L765.9 510.1 L770.8 503.7 L775.7 497.3 L780.5 490.9 L785.3 484.4 L790.1 477.9 L794.9 471.4 L799.7 464.9 L804.5 458.5 L809.3 452 L814.1 445.5 L818.5 439.8 L819 439.1 L823.9 432.7 L828.8 426.3 L833.7 420 L838.7 413.6 L843.6 407.2 L848.5 400.9 L853.5 394.5" fill="none" stroke="#0010C0" stroke-width="6.1" stroke-linejoin="round" stroke-linecap="round"/>
<polygon points="193,1366.9 197.1,1378.3 209.3,1378.7 199.7,1386.2 203.1,1397.8 193,1391 182.9,1397.8 186.3,1386.2 176.7,1378.7 188.9,1378.3" fill="#0010C0" stroke="#0010C0" stroke-width="2.4" stroke-linejoin="round"/>
<polygon points="249.4,1240.8 253.5,1252.2 265.7,1252.6 256.1,1260.1 259.5,1271.7 249.4,1264.9 239.3,1271.7 242.7,1260.1 233.1,1252.6 245.3,1252.2" fill="#0010C0" stroke="#0010C0" stroke-width="2.4" stroke-linejoin="round"/>
<polygon points="306.5,1104.3 310.6,1115.7 322.8,1116.1 313.2,1123.6 316.6,1135.2 306.5,1128.4 296.4,1135.2 299.8,1123.6 290.2,1116.1 302.4,1115.7" fill="#0010C0" stroke="#0010C0" stroke-width="2.4" stroke-linejoin="round"/>
<polygon points="362.8,984.7 366.9,996.1 379.1,996.5 369.5,1004 372.9,1015.6 362.8,1008.8 352.7,1015.6 356.1,1004 346.5,996.5 358.7,996.1" fill="#0010C0" stroke="#0010C0" stroke-width="2.4" stroke-linejoin="round"/>
<polygon points="419.9,892.8 424,904.2 436.2,904.6 426.6,912.1 430,923.7 419.9,916.9 409.8,923.7 413.2,912.1 403.6,904.6 415.8,904.2" fill="#0010C0" stroke="#0010C0" stroke-width="2.4" stroke-linejoin="round"/>
<polygon points="476.2,822 480.3,833.4 492.5,833.8 482.9,841.3 486.3,852.9 476.2,846.1 466.1,852.9 469.5,841.3 459.9,833.8 472.1,833.4" fill="#0010C0" stroke="#0010C0" stroke-width="2.4" stroke-linejoin="round"/>
<polygon points="533.6,758.9 537.7,770.3 549.9,770.7 540.3,778.2 543.7,789.8 533.6,783 523.5,789.8 526.9,778.2 517.3,770.7 529.5,770.3" fill="#0010C0" stroke="#0010C0" stroke-width="2.4" stroke-linejoin="round"/>
<polygon points="590.7,697.5 594.8,708.9 607,709.3 597.4,716.8 600.8,728.4 590.7,721.6 580.6,728.4 584,716.8 574.4,709.3 586.6,708.9" fill="#0010C0" stroke="#0010C0" stroke-width="2.4" stroke-linejoin="round"/>
<polygon points="647.7,636 651.8,647.4 664,647.8 654.4,655.3 657.8,666.9 647.7,660.1 637.6,666.9 641,655.3 631.4,647.8 643.6,647.4" fill="#0010C0" stroke="#0010C0" stroke-width="2.4" stroke-linejoin="round"/>
<polygon points="704.6,568.2 708.7,579.6 720.9,580 711.3,587.5 714.7,599.1 704.6,592.3 694.5,599.1 697.9,587.5 688.3,580 700.5,579.6" fill="#0010C0" stroke="#0010C0" stroke-width="2.4" stroke-linejoin="round"/>
<polygon points="761.6,498.6 765.7,510 777.9,510.4 768.3,517.9 771.7,529.5 761.6,522.7 751.5,529.5 754.9,517.9 745.3,510.4 757.5,510" fill="#0010C0" stroke="#0010C0" stroke-width="2.4" stroke-linejoin="round"/>
<polygon points="818.5,422.7 822.6,434.1 834.8,434.5 825.2,442 828.6,453.6 818.5,446.8 808.4,453.6 811.8,442 802.2,434.5 814.4,434.1" fill="#0010C0" stroke="#0010C0" stroke-width="2.4" stroke-linejoin="round"/>
<path d="M193 1384 L196.7 1376.8 L200.4 1369.6 L204.1 1362.4 L207.7 1355.2 L211.3 1348 L214.9 1340.8 L218.4 1333.5 L222 1326.3 L225.5 1319 L228.9 1311.7 L232.4 1304.4 L235.8 1297.1 L239.2 1289.8 L242.1 1283.4 L242.5 1282.5 L245.8 1275.1 L249.1 1267.8 L252.3 1260.4 L255.5 1253 L258.6 1245.5 L261.7 1238.1 L264.8 1230.6 L267.9 1223.2 L271 1215.7 L274.1 1208.3 L277.1 1200.8 L280.2 1193.3 L283.4 1185.9 L286.5 1178.5 L289.7 1171 L292.7 1164 L292.9 1163.6 L296.1 1156.2 L299.3 1148.8 L302.4 1141.4 L305.6 1133.9 L308.8 1126.5 L311.9 1119.1 L315.1 1111.7 L318.4 1104.2 L321.6 1096.9 L324.9 1089.5 L328.3 1082.1 L331.7 1074.8 L335.1 1067.6 L338.7 1060.3 L342.3 1053.2 L342.8 1052.1 L345.9 1046 L349.7 1038.9 L353.5 1031.8 L357.4 1024.7 L361.4 1017.6 L365.4 1010.6 L369.5 1003.6 L373.6 996.7 L377.9 989.8 L382.2 982.9 L386.5 976.2 L390.9 969.5 L393.4 965.8 L395.4 962.8 L400.1 956.2 L404.8 949.7 L409.6 943.2 L414.5 936.8 L419.5 930.5 L424.6 924.1 L429.7 917.9 L434.9 911.7 L440.1 905.5 L444.7 900.2 L445.4 899.4 L450.7 893.4 L456.1 887.4 L461.6 881.5 L467.2 875.7 L472.8 869.9 L478.4 864.1 L484.1 858.3 L489.8 852.6 L495.5 846.9 L495.5 846.9 L501.2 841.2 L507 835.5 L512.7 829.9 L518.6 824.3 L524.4 818.7 L530.2 813.2 L536.1 807.7 L542 802.1 L545.6 798.8 L547.9 796.7 L553.9 791.2 L559.9 785.8 L565.9 780.4 L571.9 775.1 L577.9 769.7 L584 764.3 L589.9 758.9 L595.9 753.5 L596.4 753 L601.8 748 L607.7 742.4 L613.5 736.9 L619.3 731.3 L625.2 725.7 L631 720.1 L636.8 714.5 L642.6 708.9 L647 704.6 L648.4 703.3 L654.2 697.7 L660 692.1 L665.8 686.5 L671.7 681 L677.5 675.3 L683.2 669.7 L689 664 L694.6 658.3 L699.1 653.6 L700.2 652.5 L705.7 646.6 L711.1 640.6 L716.5 634.6 L721.9 628.6 L727.2 622.5 L732.5 616.4 L737.7 610.3 L743 604.2 L748.3 598 L748.9 597.3 L753.5 591.9 L758.7 585.8 L764 579.6 L769.2 573.4 L774.3 567.3 L779.5 561.1 L784.6 554.9 L789.8 548.6 L794.9 542.4 L799.2 537.2 L800 536.2 L805.2 529.9 L810.3 523.7 L815.4 517.5 L820.5 511.2 L825.6 505 L830.7 498.7 L835.7 492.4 L840.8 486.1 L845.7 479.7 L850.7 473.4 L851 472.9 L855.5 466.9 L860.3 460.5 L865.1 454 L869.9 447.5 L874.6 440.9 L879.3 434.4 L884 427.8 L888.7 421.2 L893.4 414.6 L898 408.1 L901.1 403.8 L902.7 401.5 L907.4 395 L912.1 388.4 L916.8 381.8 L921.5 375.2 L926.2 368.7 L930.8 362.1 L935.5 355.5 L940.1 348.9 L944.8 342.3 L949.4 335.7" fill="none" stroke="#FF8019" stroke-width="6.1" stroke-linejoin="round" stroke-linecap="round"/>
<circle cx="193" cy="1384" r="14.5" fill="#fff" stroke="#FF8019" stroke-width="3.2"/>
<circle cx="242.1" cy="1283.4" r="14.5" fill="#fff" stroke="#FF8019" stroke-width="3.2"/>
<circle cx="292.7" cy="1164" r="14.5" fill="#fff" stroke="#FF8019" stroke-width="3.2"/>
<circle cx="342.8" cy="1052.1" r="14.5" fill="#fff" stroke="#FF8019" stroke-width="3.2"/>
<circle cx="393.4" cy="965.8" r="14.5" fill="#fff" stroke="#FF8019" stroke-width="3.2"/>
<circle cx="444.7" cy="900.2" r="14.5" fill="#fff" stroke="#FF8019" stroke-width="3.2"/>
<circle cx="495.5" cy="846.9" r="14.5" fill="#fff" stroke="#FF8019" stroke-width="3.2"/>
<circle cx="545.6" cy="798.8" r="14.5" fill="#fff" stroke="#FF8019" stroke-width="3.2"/>
<circle cx="596.4" cy="753" r="14.5" fill="#fff" stroke="#FF8019" stroke-width="3.2"/>
<circle cx="647" cy="704.6" r="14.5" fill="#fff" stroke="#FF8019" stroke-width="3.2"/>
<circle cx="699.1" cy="653.6" r="14.5" fill="#fff" stroke="#FF8019" stroke-width="3.2"/>
<circle cx="748.9" cy="597.3" r="14.5" fill="#fff" stroke="#FF8019" stroke-width="3.2"/>
<circle cx="799.2" cy="537.2" r="14.5" fill="#fff" stroke="#FF8019" stroke-width="3.2"/>
<circle cx="851" cy="472.9" r="14.5" fill="#fff" stroke="#FF8019" stroke-width="3.2"/>
<circle cx="901.1" cy="403.8" r="14.5" fill="#fff" stroke="#FF8019" stroke-width="3.2"/>
</g>
<g font-size="65.3" shape-rendering="crispEdges">
<line x1="1461.3" y1="914.6" x2="1612.8" y2="914.6" stroke="#000000" stroke-width="6.1"/>
<text x="1624.5" y="937.1">NR</text>
<line x1="1461.3" y1="996" x2="1612.8" y2="996" stroke="#000000" stroke-width="6.1"/>
<rect x="1524.2" y="983.5" width="25" height="25" fill="#fff" stroke="#000000" stroke-width="3.0"/>
<text x="1624.5" y="1018.5">NR F</text>
<line x1="1461.3" y1="1077.2" x2="1612.8" y2="1077.2" stroke="#FF0000" stroke-width="6.1"/>
<polygon points="1536.7,1059.8 1551.8,1085.9 1521.6,1085.9" fill="#fff" stroke="#FF0000" stroke-width="3.0"/>
<text x="1624.5" y="1099.7">NR MF</text>
<line x1="1461.3" y1="1158.5" x2="1612.8" y2="1158.5" stroke="#008B5A" stroke-width="6.1"/>
<polygon points="1536.7,1175.9 1551.8,1149.8 1521.6,1149.8" fill="#008B5A" stroke="#008B5A" stroke-width="3.0"/>
<text x="1624.5" y="1181">NR MF Si1</text>
<line x1="1461.3" y1="1239.9" x2="1612.8" y2="1239.9" stroke="#0010C0" stroke-width="6.1"/>
<polygon points="1536.7,1223.2 1540.7,1234.4 1552.6,1234.7 1543.2,1242 1546.5,1253.4 1536.7,1246.7 1526.9,1253.4 1530.2,1242 1520.8,1234.7 1532.7,1234.4" fill="#0010C0" stroke="#0010C0" stroke-width="2.4" stroke-linejoin="round"/>
<text x="1624.5" y="1262.4">NR MF Si2</text>
<line x1="1461.3" y1="1321" x2="1612.8" y2="1321" stroke="#FF8019" stroke-width="6.1"/>
<circle cx="1536.7" cy="1321" r="14.0" fill="#fff" stroke="#FF8019" stroke-width="2.8"/>
<text x="1624.5" y="1343.5">NR MF Si3</text>
</g>
</svg></body></html>
